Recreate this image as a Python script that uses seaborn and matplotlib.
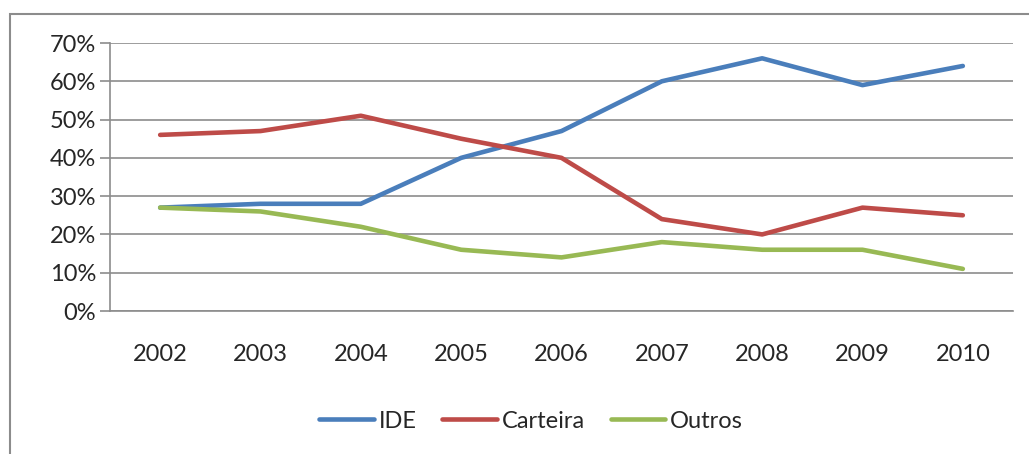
import pandas as pd
import matplotlib.pyplot as plt
import seaborn as sns
from matplotlib.patches import Rectangle

# Data (percent)
years = ['2002', '2003', '2004', '2005', '2006', '2007', '2008', '2009', '2010']
ide = [27, 28, 28, 40, 47, 60, 66, 59, 64]
carteira = [46, 47, 51, 45, 40, 24, 20, 27, 25]
outros = [27, 26, 22, 16, 14, 18, 16, 16, 11]
series_names = ['IDE', 'Carteira', 'Outros']
colors = ['#4A7EBB', '#BE4B48', '#98B954']

df = pd.DataFrame({
    'Ano': years * 3,
    'Valor': ide + carteira + outros,
    'Serie': [s for s in series_names for _ in years],
})

sns.set_style('white')
plt.rcParams['font.family'] = ['Lato', 'DejaVu Sans']

fig = plt.figure(figsize=(10.29, 4.54), dpi=100)
ax = fig.add_axes([110 / 1029, 1 - 311 / 454, (1013 - 110) / 1029, (311 - 43) / 454])

sns.lineplot(data=df, x='Ano', y='Valor', hue='Serie', palette=colors,
             linewidth=3.3, sort=False, ax=ax)

grid_color = '#8c8c8c'
text_color = '#262626'
fs = 17

ax.set_ylim(0, 70)
ax.set_yticks(range(0, 71, 10))
ax.set_yticklabels([f'{v}%' for v in range(0, 71, 10)], fontsize=fs, color=text_color)
ax.yaxis.grid(True, color=grid_color, linewidth=1.2)
ax.set_axisbelow(True)

ax.set_xlim(-0.5, len(years) - 0.5)
ax.set_xticks(range(len(years)))
ax.set_xticklabels(years, fontsize=fs, color=text_color)
ax.set_xticks([i - 0.5 for i in range(len(years) + 1)], minor=True)
ax.tick_params(axis='x', which='major', length=0, pad=24)
ax.tick_params(axis='x', which='minor', length=7, width=1.2, color=grid_color, direction='out')
ax.tick_params(axis='y', length=7, width=1.2, color=grid_color, direction='out', left=True, pad=3)

for side in ['top', 'right']:
    ax.spines[side].set_visible(False)
for side in ['left', 'bottom']:
    ax.spines[side].set_color(grid_color)
    ax.spines[side].set_linewidth(1.2)

ax.set_xlabel('')
ax.set_ylabel('')

leg = ax.legend(loc='center', bbox_to_anchor=(531 / 1029, (454 - 421) / 454), bbox_transform=fig.transFigure,
                ncol=3, frameon=False, fontsize=fs, handlelength=2.3, handletextpad=0.2,
                columnspacing=1.1)
for t in leg.get_texts():
    t.set_color(text_color)
for h in leg.get_lines():
    h.set_linewidth(3.3)

# outer chart border
fig.patches.append(Rectangle((10 / 1029, -0.05), 1.1, 1 - 14 / 454 + 0.05,
                             transform=fig.transFigure, fill=False,
                             edgecolor='#8c8c8c', linewidth=1.5))

plt.savefig('out.png', dpi=100)
